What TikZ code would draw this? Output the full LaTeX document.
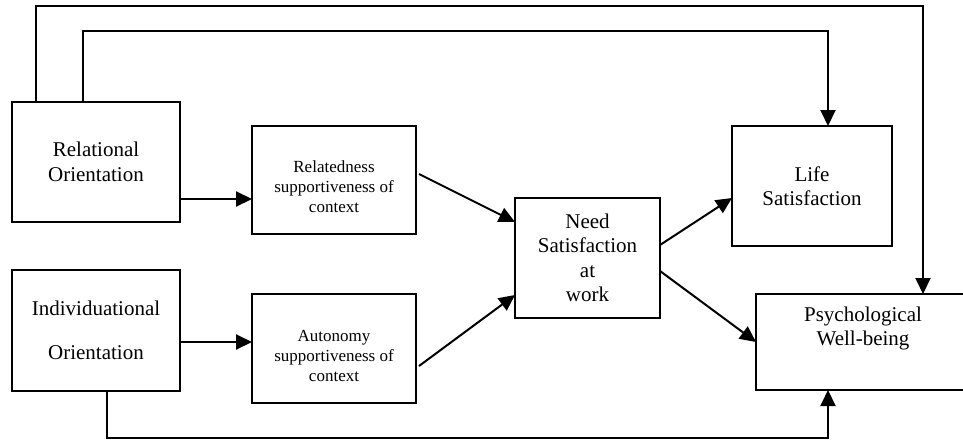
\documentclass[tikz,border=0pt]{standalone}
\usepackage{fontspec}
\setmainfont{Liberation Serif}
\usetikzlibrary{arrows.meta}
\begin{document}
\begin{tikzpicture}[x=1pt,y=-1pt,
  box/.style={draw,line width=2pt,inner sep=0pt,outer sep=0pt,align=center,
    font=\fontsize{21}{24.5}\selectfont},
  smallbox/.style={box,font=\fontsize{17}{20}\selectfont},
  arr/.style={line width=2pt,-{Triangle[length=16pt,width=15pt]}},
  link/.style={line width=2pt}]
  \fill[white] (0,0) rectangle (963,439);
  \useasboundingbox (0,0) rectangle (963,439);
  \clip (0,0) rectangle (963,439);

  % boxes
  \node[box,minimum width=168pt,minimum height=120pt] (rel) at (96,162)
    {Relational\\Orientation};
  \node[box,minimum width=168pt,minimum height=121pt] (ind) at (96,330.5)
    {Individuational\\[20pt]Orientation};
  \node[smallbox,minimum width=164pt,minimum height=108pt] (relsup) at (334,180)
    {\strut\\[-8pt]Relatedness\\supportiveness of\\context};
  \node[smallbox,minimum width=164pt,minimum height=109pt] (autsup) at (334,348.5)
    {\strut\\[-8pt]Autonomy\\supportiveness of\\context};
  \node[box,minimum width=145pt,minimum height=120pt] (need) at (587.5,258)
    {Need\\Satisfaction\\at\\work};
  \node[box,minimum width=160pt,minimum height=120pt] (life) at (812,186)
    {Life\\Satisfaction};
  \node[box,minimum width=214pt,minimum height=96pt] (psych) at (863,342)
    {Psychological\\Well-being\\\strut};

  % routing points of the long connectors
  \coordinate (outerL) at (36,6);
  \coordinate (outerR) at (923,6);
  \coordinate (innerL) at (83,31);
  \coordinate (innerR) at (828,31);
  \coordinate (lowL) at (107,438);
  \coordinate (lowR) at (828,438);

  % straight connectors
  \draw[arr] ([yshift=-37pt]rel.east) -- ([yshift=-37pt]rel.east -| relsup.west);
  \draw[arr] ([yshift=-11.5pt]ind.east) -- ([yshift=-11.5pt]ind.east -| autsup.west);
  \draw[arr] ([xshift=3pt,yshift=6pt]relsup.east) -- ([yshift=36pt]need.west);
  \draw[arr] ([xshift=3pt,yshift=-17.5pt]autsup.east) -- ([yshift=-37pt]need.west);
  \draw[arr] ([yshift=13pt]need.east) -- ([yshift=-12pt]life.west);
  \draw[arr] ([yshift=-13pt]need.east) -- (psych.west);

  % long connectors
  \draw[arr] ([xshift=-60pt]rel.north) -- (outerL) -- (outerR) -- (outerR |- psych.north);
  \draw[arr] ([xshift=-13pt]rel.north) -- (innerL) -- (innerR) -- (innerR |- life.north);
  \draw[arr] ([xshift=11pt]ind.south) -- (lowL) -- (lowR) -- (lowR |- psych.south);
\end{tikzpicture}
\end{document}
